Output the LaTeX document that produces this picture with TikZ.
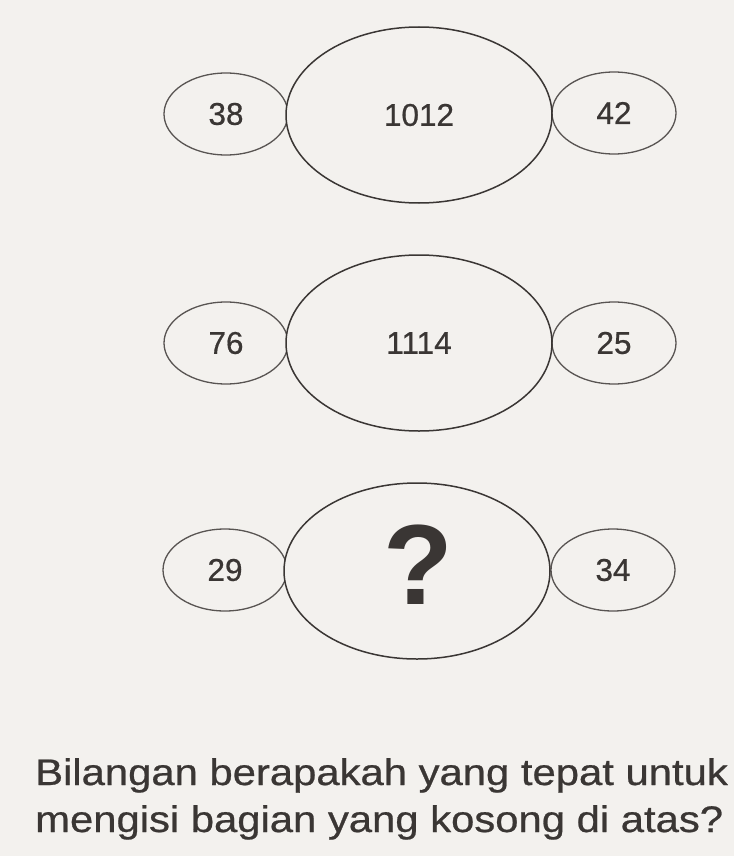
\documentclass[tikz,border=0pt]{standalone}
\usepackage{fontspec}
\setmainfont{Liberation Sans}
\newfontfamily\heavy{Liberation Sans}[FakeBold=0.6]
\usetikzlibrary{shapes.geometric}
\definecolor{paper}{RGB}{243,241,238}
\definecolor{ink}{RGB}{58,54,52}
\begin{document}
\begin{tikzpicture}[x=1pt,y=-1pt,
  small/.style={ellipse,draw=ink!85,line width=1.3pt,minimum width=124pt,minimum height=82pt,inner sep=0pt,font=\heavy\fontsize{31.5}{31.5}\selectfont,text=ink},
  big/.style={ellipse,draw=ink,line width=1.5pt,fill=paper,minimum width=266pt,minimum height=176pt,inner sep=0pt,font=\heavy\fontsize{31.5}{31.5}\selectfont,text=ink},
  caption/.style={anchor=base west,inner sep=0pt,text=ink,font=\heavy\fontsize{37}{37}\selectfont}]
\fill[paper] (0,0) rectangle (734,856);
\useasboundingbox (0,0) rectangle (734,856);
% row 1
\node[small] (l1) at (226,114) {38};
\node[small] (r1) at (614,113) {42};
\node[big] (c1) at (419,115) {1012};
% row 2
\node[small] (l2) at (226,343) {76};
\node[small] (r2) at (614,343) {25};
\node[big] (c2) at (419,343) {1114};
% row 3
\node[small] (l3) at (225,570) {29};
\node[small] (r3) at (613,570) {34};
\node[big] (c3) at (417,571) {};
\node[text=ink,font=\fontsize{114}{114}\selectfont\bfseries,inner sep=0pt] (q) at (418,565) {?};
% question
\node[caption] (t1) at (35,785) {\scalebox{1.13}[1]{Bilangan berapakah yang tepat untuk}};
\node[caption] (t2) at (35,832) {\scalebox{1.13}[1]{mengisi bagian yang kosong di atas?}};
\end{tikzpicture}
\end{document}
